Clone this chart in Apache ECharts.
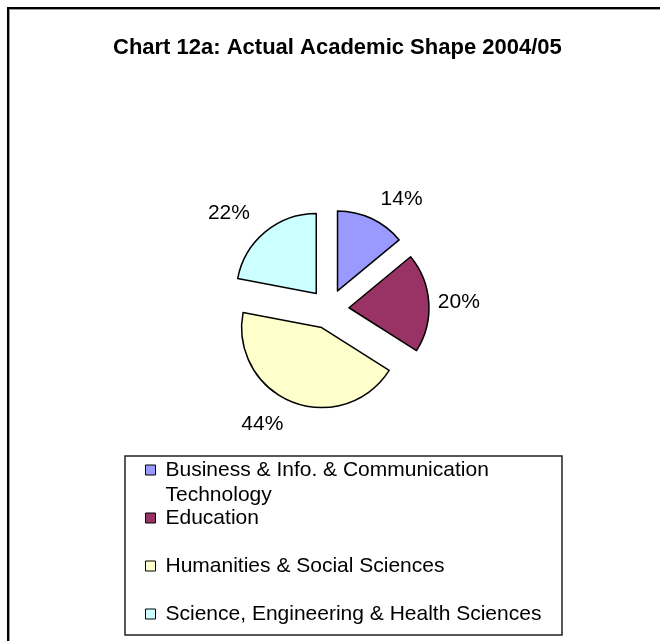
<!DOCTYPE html>
<html>
<head>
<meta charset="utf-8">
<script src="https://cdn.jsdelivr.net/npm/echarts@6/dist/echarts.min.js"></script>
<style>
  html, body { margin: 0; padding: 0; background: #fff; }
  #frame {
    position: absolute; left: 7px; top: 7px; width: 653px; height: 634px;
    border-left: 2px solid #000; border-top: 2px solid #000;
    box-shadow: inset 1px 1px 0 #999; box-sizing: border-box;
  }
  #chart { position: absolute; left: 0; top: 0; width: 660px; height: 641px; }
</style>
</head>
<body>
<div id="frame"></div>
<div id="chart"></div>
<script>
// data
const categories = [
  'Business & Info. & Communication Technology',
  'Education',
  'Humanities & Social Sciences',
  'Science, Engineering & Health Sciences'
]
const shares = [14, 20, 44, 22]
const colors = ['#9999ff', '#993366', '#ffffcc', '#ccffff']

// layout: vertical centre of each legend row, reach of each % label
const legendRows = [470, 518, 566, 614]
const labelReach = [21, 9, 24, 24]
const lineH = 25
const font = "'Liberation Sans', Arial, sans-serif"

const chart = echarts.init(document.getElementById('chart'), null, { renderer: 'canvas' })

// one legend per row so the wrapped first entry keeps the even row spacing
const legends = categories.map((name, i) => {
  const multi = name.indexOf(' Technology') > 0
  return {
    data: [name],
    orient: 'vertical',
    left: 145,
    top: legendRows[i] - (multi ? lineH * 1.5 : lineH / 2),
    padding: 0,
    itemWidth: 10,
    itemHeight: 10,
    icon: 'rect',
    selectedMode: false,
    itemStyle: { borderColor: '#000', borderWidth: 1 },
    textStyle: { fontFamily: font, fontSize: 21, color: '#000', lineHeight: lineH, padding: [0, 0, 0, 5] },
    // blank first line keeps "Business..." level with its marker
    formatter: n => multi ? ' \n' + n.replace(' Technology', '\nTechnology') : n
  }
})

chart.setOption({
  animation: false,
  backgroundColor: 'transparent',
  title: {
    text: 'Chart 12a: Actual Academic Shape 2004/05',
    left: 113,
    top: 37,
    padding: 0,
    textStyle: { fontFamily: font, fontSize: 22, fontWeight: 'bold', color: '#000' }
  },
  legend: legends,
  graphic: [{
    type: 'rect',
    shape: { x: 125, y: 456, width: 437, height: 179 },
    style: { fill: 'transparent', stroke: '#222', lineWidth: 1.5 },
    silent: true
  }],
  series: [{
    type: 'pie',
    center: [329, 309],
    radius: 80,
    startAngle: 90,
    clockwise: true,
    selectedMode: 'multiple',
    selectedOffset: 20,
    itemStyle: { borderColor: '#000', borderWidth: 1.5 },
    label: {
      show: true,
      position: 'outside',
      distanceToLabelLine: 0,
      formatter: p => p.value + '%',
      fontFamily: font,
      fontSize: 21,
      color: '#000'
    },
    labelLine: { show: false, length: 12, length2: 0 },
    emphasis: { disabled: true },
    data: categories.map((name, i) => ({
      name,
      value: shares[i],
      selected: true,
      itemStyle: { color: colors[i] },
      labelLine: { length: labelReach[i] }
    }))
  }]
})
</script>
</body>
</html>
